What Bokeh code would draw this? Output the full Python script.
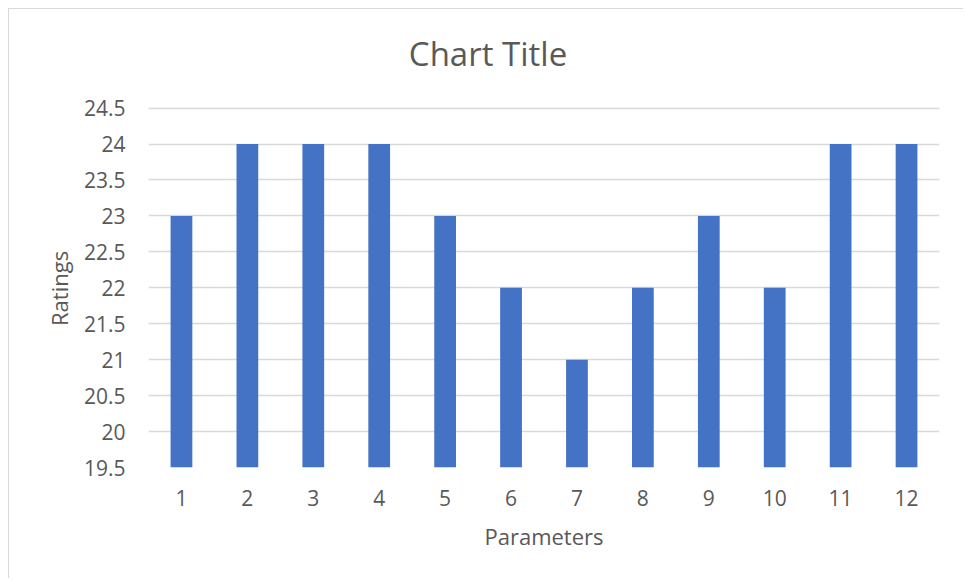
from bokeh.plotting import figure
from bokeh.models import Range1d, FixedTicker, CustomJSTickFormatter, Label, Title
from bokeh.embed import file_html
from bokeh.resources import INLINE

categories = ["1", "2", "3", "4", "5", "6", "7", "8", "9", "10", "11", "12"]
ratings = [23, 24, 24, 24, 23, 22, 21, 22, 23, 22, 24, 24]
y_ticks = [19.5, 20, 20.5, 21, 21.5, 22, 22.5, 23, 23.5, 24, 24.5]
title_text = "Chart Title"
x_label = "Parameters"
y_label = "Ratings"

FONT = "Open Sans"
TXT = "#595959"
GRID = "#d9d9d9"
BAR = "#4472C4"

# plot frame extends above the value axis to leave room for the title
Y_MIN, Y_MAX = 19.5, 24.5
FRAME_SPAN = 6.2326  # value span covered by the frame (title space included)

p = figure(
    x_range=categories,
    y_range=Range1d(Y_MIN, Y_MIN + FRAME_SPAN),
    width=955, height=570,
    output_backend="svg",
    toolbar_location=None,
    min_border_left=139, min_border_right=25,
    min_border_top=10, min_border_bottom=112,
    styles={"margin-left": "8px", "margin-top": "8px",
            "border-left": "1.5px solid #d9d9d9", "border-top": "1.5px solid #d9d9d9"},
)

p.vbar(x=categories, top=ratings, bottom=Y_MIN, width=0.33, color=BAR, line_color=None)

title = Label(text=title_text, x=339.5, y=414, x_units="screen", y_units="screen",
              text_align="center", text_baseline="alphabetic", text_font=FONT,
              text_font_size="33px", text_color=TXT)
p.add_layout(title)

# y-axis title, centred on the value span (not on the extended frame)
ytitle = Title(text=y_label, align="left", offset=141.5, vertical_align="bottom",
               standoff=14, text_font=FONT, text_font_size="22px",
               text_font_style="normal", text_color=TXT)
p.add_layout(ytitle, "left")

p.yaxis.ticker = FixedTicker(ticks=y_ticks)
p.yaxis.formatter = CustomJSTickFormatter(code="return tick.toString();")

for ax in (p.xaxis[0], p.yaxis[0]):
    ax.axis_line_color = None
    ax.major_tick_line_color = None
    ax.minor_tick_line_color = None
    ax.major_label_text_font = FONT
    ax.major_label_text_font_size = "21px"
    ax.major_label_text_color = TXT
    ax.axis_label_text_font = FONT
    ax.axis_label_text_font_size = "22px"
    ax.axis_label_text_font_style = "normal"
    ax.axis_label_text_color = TXT

p.xaxis.axis_label = x_label
p.yaxis.major_label_standoff = 17
p.xaxis.major_label_standoff = 16
p.xaxis.axis_label_standoff = 12

p.xgrid.grid_line_color = None
p.ygrid.grid_line_color = GRID
p.ygrid.grid_line_width = 1.5
p.outline_line_color = None
p.x_range.range_padding = 0.0

open("out.html", "w").write(file_html(p, INLINE))
